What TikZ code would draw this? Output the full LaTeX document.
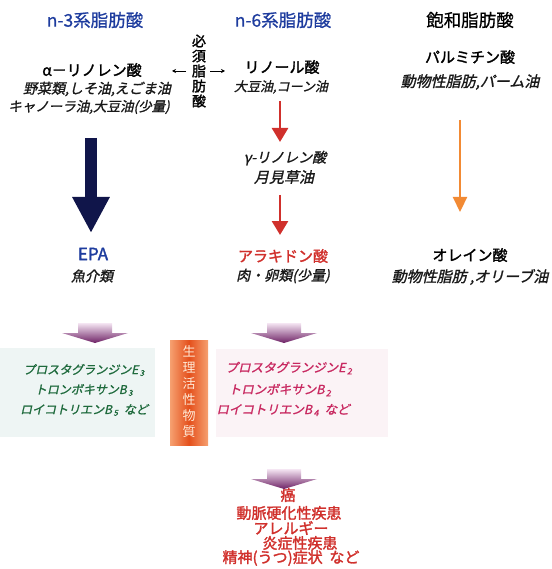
\documentclass[tikz,border=0pt]{standalone}
\usepackage{fontspec}
\newfontfamily\jp{Noto Sans CJK JP}
\newfontfamily\jpm[FakeBold=0.8]{Noto Sans CJK JP}
\newfontfamily\jpb[FakeBold=1.8]{Noto Sans CJK JP}
\newfontfamily\jpbi[FakeBold=1.3,FakeSlant=0.22]{Noto Sans CJK JP}
\usetikzlibrary{arrows.meta}
\definecolor{navy}{HTML}{10154A}
\definecolor{tblue}{HTML}{1E3C9E}
\definecolor{ared}{HTML}{D0302C}
\definecolor{aorange}{HTML}{F28A34}
\definecolor{tgreen}{HTML}{1E6A3C}
\definecolor{tmag}{HTML}{C82860}
\definecolor{pdark}{HTML}{6E2266}
\definecolor{plight}{HTML}{F5E6F3}
\definecolor{bioEdge}{HTML}{F6A070}
\definecolor{bioMid}{HTML}{E4501C}
\definecolor{gboxc}{HTML}{EEF5F4}
\definecolor{pboxc}{HTML}{FBF3F6}
\newcommand\lowidx[1]{\kern1.5pt\textsubscript{#1}}
\tikzset{
  every node/.style={inner sep=0pt, outer sep=0pt, anchor=center},
  title/.style={font=\jpm\fontsize{17.5}{19}\selectfont, text=tblue},
  mainname/.style={font=\jpb\fontsize{15}{17}\selectfont, text=black},
  subline/.style={font=\jpbi\fontsize{14}{16}\selectfont, text=black!90},
  greenline/.style={font=\jpbi\fontsize{12}{14}\selectfont, text=tgreen},
  magline/.style={font=\jpbi\fontsize{12.5}{14}\selectfont, text=tmag},
  redline/.style={font=\jpb\fontsize{15}{15}\selectfont, text=ared},
  navyarrow/.style={draw=navy, line width=12pt, line cap=butt, -{Triangle[length=36pt,width=35pt]}},
  redarrow/.style={draw=ared, line width=2.6pt, line cap=butt, -{Triangle[length=14pt,width=16pt]}},
  orangearrow/.style={draw=aorange, line width=2.2pt, line cap=butt, -{Triangle[length=15pt,width=14pt]}},
  smallarrow/.style={draw=black, line width=0.9pt, -{Stealth[length=4pt,width=4pt]}},
  parrow/.pic={\shade[top color=plight, bottom color=pdark]
     (-17,-10) -- (17,-10) -- (17,0) -- (33,0) -- (0,10) -- (-33,0) -- (-17,0) -- cycle;}
}
\begin{document}
\begin{tikzpicture}[x=1pt,y=-1pt]
\useasboundingbox (0,0) rectangle (551,569);
% titles
\node[title] (n3) at (95,20) {n-3系脂肪酸};
\node[title] (n6) at (283,20) {n-6系脂肪酸};
\node[title, text=black] (sat) at (470,20) {飽和脂肪酸};
% essential fatty acid vertical label
\node[font=\jpb\fontsize{14}{15}\selectfont, align=center] (ess) at (199,71) {必\\須\\脂\\肪\\酸};
\coordinate (essL1) at (186,71);
\coordinate (essL2) at (172,71);
\coordinate (essR1) at (210,71);
\coordinate (essR2) at (225,71);
\draw[smallarrow] (essL1) -- (essL2);
\draw[smallarrow] (essR1) -- (essR2);
% n-3 column
\node[mainname] (ala) at (92,70) {α－リノレン酸};
\node[subline] (ala1) at (97,89) {野菜類,しそ油,えごま油};
\node[subline, font=\jpbi\fontsize{13.5}{16}\selectfont] (ala2) at (89,107) {キャノーラ油,大豆油(少量)};
\coordinate (nvS) at (91,138);
\coordinate (nvE) at (91,233);
\draw[navyarrow] (nvS) -- (nvE);
\node[font=\jpb\fontsize{17}{19}\selectfont, text=tblue] (epa) at (93,254) {EPA};
\node[subline] (epa1) at (92,276) {魚介類};
% n-6 column
\node[mainname] (la) at (282,67) {リノール酸};
\node[subline, font=\jpbi\fontsize{13}{16}\selectfont] (la1) at (281,87) {大豆油,コーン油};
\coordinate (r1S) at (280,101);
\coordinate (r1E) at (280,142);
\draw[redarrow] (r1S) -- (r1E);
\node[subline] (gla) at (285,158) {γ-リノレン酸};
\node[subline, font=\jpbi\fontsize{15}{16}\selectfont] (gla1) at (284,177) {月見草油};
\coordinate (r2S) at (280,195);
\coordinate (r2E) at (280,235);
\draw[redarrow] (r2S) -- (r2E);
\node[mainname, text=ared] (aa) at (283,256) {アラキドン酸};
\node[subline] (aa1) at (283,276) {肉・卵類(少量)};
% saturated column
\node[mainname] (pa) at (470,57) {パルミチン酸};
\node[subline, font=\jpbi\fontsize{15}{16}\selectfont] (pa1) at (470,82) {動物性脂肪,パーム油};
\coordinate (oS) at (460,120);
\coordinate (oE) at (460,212);
\draw[orangearrow] (oS) -- (oE);
\node[mainname] (oa) at (470,255) {オレイン酸};
\node[subline, font=\jpbi\fontsize{15}{16}\selectfont] (oa1) at (470,277) {動物性脂肪 ,オリーブ油};
% boxes
\node[fill=gboxc, minimum width=155pt, minimum height=89pt] (gbox) at (77.5,392.5) {};
\node[fill=pboxc, minimum width=172pt, minimum height=88pt] (pbox) at (302,393) {};
\node[left color=bioEdge, right color=bioEdge, middle color=bioMid,
      minimum width=38pt, minimum height=105pt] (bio) at (189,392.5) {};
\node[font=\jp\fontsize{13}{16}\selectfont, text=white!85!orange, align=center] (biotxt) at (189,392) {生\\理\\活\\性\\物\\質};
% purple arrow heads
\pic at (95,333) {parrow};
\pic at (284,333) {parrow};
\pic at (284,479) {parrow};
% green texts
\node[greenline] (g1) at (84,370) {プロスタグランジンE\lowidx{3}};
\node[greenline] (g2) at (84,390) {トロンボキサンB\lowidx{3}};
\node[greenline] (g3) at (84,410) {ロイコトリエンB\lowidx{5}\ \ など};
% magenta texts
\node[magline] (m1) at (289,368) {プロスタグランジンE\lowidx{2}};
\node[magline] (m2) at (280,390) {トロンボキサンB\lowidx{2}};
\node[magline] (m3) at (283,410) {ロイコトリエンB\lowidx{4}\ \ など};
% diseases
\node[redline] (d1) at (288,495) {癌};
\node[redline] (d2) at (289,513) {動脈硬化性疾患};
\node[redline] (d3) at (291,528) {アレルギー};
\node[redline] (d4) at (300,543) {炎症性疾患};
\node[redline] (d5) at (291,558) {精神(うつ)症状\ \ など};
\end{tikzpicture}
\end{document}
